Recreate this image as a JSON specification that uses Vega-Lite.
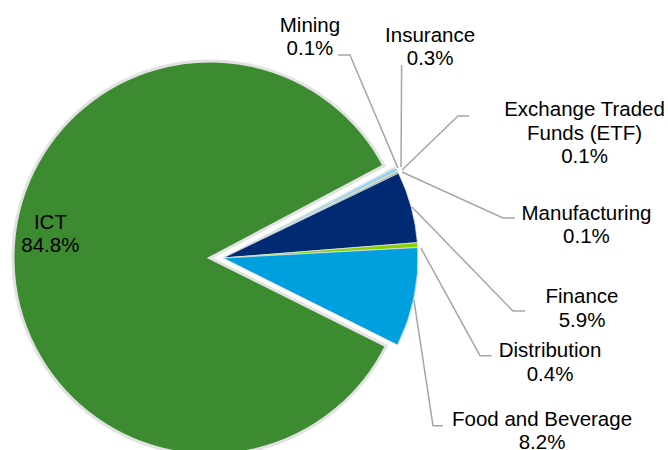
{
  "$schema": "https://vega.github.io/schema/vega-lite/v6.json",
  "width": 446,
  "height": 450,
  "autosize": {"type": "none"},
  "padding": {"left": 0, "top": 0, "right": 222, "bottom": 0},
  "background": "white",
  "config": {"view": {"stroke": null}},
  "datasets": {
    "sectors": [
      {"sector": "ICT", "value": 84.8, "ord": 1},
      {"sector": "Mining", "value": 0.1, "ord": 2},
      {"sector": "Insurance", "value": 0.3, "ord": 3},
      {"sector": "Exchange Traded Funds (ETF)", "value": 0.1, "ord": 4},
      {"sector": "Manufacturing", "value": 0.1, "ord": 5},
      {"sector": "Finance", "value": 5.9, "ord": 6},
      {"sector": "Distribution", "value": 0.4, "ord": 7},
      {"sector": "Food and Beverage", "value": 8.2, "ord": 8}
    ],
    "labels": [
      {"sector": "ICT", "display": "ICT", "value": 84.8, "lx": -0.885, "ly": 0.149},
      {"sector": "Mining", "display": "Mining", "value": 0.1, "lx": 0.446, "ly": 1.159},
      {"sector": "Insurance", "display": "Insurance", "value": 0.3, "lx": 1.062, "ly": 1.109},
      {"sector": "Exchange Traded Funds (ETF)", "display": "Exchange Traded\nFunds (ETF)", "value": 0.1, "lx": 1.854, "ly": 0.728},
      {"sector": "Manufacturing", "display": "Manufacturing", "value": 0.1, "lx": 1.864, "ly": 0.195},
      {"sector": "Finance", "display": "Finance", "value": 5.9, "lx": 1.841, "ly": -0.231},
      {"sector": "Distribution", "display": "Distribution", "value": 0.4, "lx": 1.677, "ly": -0.508},
      {"sector": "Food and Beverage", "display": "Food and Beverage", "value": 8.2, "lx": 1.636, "ly": -0.86}
    ],
    "leaders": [
      {"sector": "Mining", "i": 1, "u": 0.59, "v": 1.041},
      {"sector": "Mining", "i": 2, "u": 0.651, "v": 1.041},
      {"sector": "Mining", "i": 3, "u": 0.897, "v": 0.462},
      {"sector": "Insurance", "i": 1, "u": 0.916, "v": 0.99},
      {"sector": "Insurance", "i": 2, "u": 0.913, "v": 0.467},
      {"sector": "ETF", "i": 1, "u": 1.262, "v": 0.728},
      {"sector": "ETF", "i": 2, "u": 1.205, "v": 0.728},
      {"sector": "ETF", "i": 3, "u": 0.918, "v": 0.451},
      {"sector": "Manufacturing", "i": 1, "u": 1.497, "v": 0.205},
      {"sector": "Manufacturing", "i": 2, "u": 1.436, "v": 0.205},
      {"sector": "Manufacturing", "i": 3, "u": 0.918, "v": 0.441},
      {"sector": "Finance", "i": 1, "u": 1.549, "v": -0.272},
      {"sector": "Finance", "i": 2, "u": 1.487, "v": -0.272},
      {"sector": "Finance", "i": 3, "u": 0.969, "v": 0.262},
      {"sector": "Distribution", "i": 1, "u": 1.378, "v": -0.501},
      {"sector": "Distribution", "i": 2, "u": 1.318, "v": -0.501},
      {"sector": "Distribution", "i": 3, "u": 1.015, "v": 0.051},
      {"sector": "Food and Beverage", "i": 1, "u": 1.128, "v": -0.86},
      {"sector": "Food and Beverage", "i": 2, "u": 1.077, "v": -0.86},
      {"sector": "Food and Beverage", "i": 3, "u": 0.979, "v": -0.215}
    ]
  },
  "layer": [
    {
      "data": {"name": "sectors"},
      "transform": [
        {"stack": "value", "groupby": [], "sort": [{"field": "ord"}], "as": ["t0", "t1"]},
        {"filter": "datum.sector === 'ICT'"}
      ],
      "mark": {"type": "arc", "radius": 197, "xOffset": -13, "yOffset": 33, "stroke": "#e2e2e2", "strokeWidth": 3},
      "encoding": {
        "theta": {"field": "t0", "type": "quantitative", "scale": {"domain": [0, 99.9], "range": [2.033, 8.316]}},
        "theta2": {"field": "t1"},
        "color": {
          "field": "sector", "type": "nominal", "legend": null,
          "scale": {
            "domain": ["ICT", "Mining", "Insurance", "Exchange Traded Funds (ETF)", "Manufacturing", "Finance", "Distribution", "Food and Beverage"],
            "range": ["#3D8B31", "#B7C9D3", "#8FD3EE", "#D4DE00", "#2F5D6E", "#002A72", "#8CD200", "#00A0DE"]
          }
        }
      }
    },
    {
      "data": {"name": "sectors"},
      "transform": [
        {"stack": "value", "groupby": [], "sort": [{"field": "ord"}], "as": ["t0", "t1"]},
        {"filter": "datum.sector !== 'ICT'"}
      ],
      "mark": {"type": "arc", "radius": 195, "xOffset": 0, "yOffset": 33, "stroke": "#e6e6e6", "strokeWidth": 0.75},
      "encoding": {
        "theta": {"field": "t0", "type": "quantitative", "scale": {"domain": [0, 99.9], "range": [2.033, 8.316]}},
        "theta2": {"field": "t1"},
        "color": {
          "field": "sector", "type": "nominal", "legend": null,
          "scale": {
            "domain": ["ICT", "Mining", "Insurance", "Exchange Traded Funds (ETF)", "Manufacturing", "Finance", "Distribution", "Food and Beverage"],
            "range": ["#3D8B31", "#B7C9D3", "#8FD3EE", "#D4DE00", "#2F5D6E", "#002A72", "#8CD200", "#00A0DE"]
          }
        }
      }
    },
    {
      "data": {"name": "leaders"},
      "mark": {"type": "line", "color": "#a6a6a6", "strokeWidth": 1.5},
      "encoding": {
        "x": {"field": "u", "type": "quantitative", "axis": null, "scale": {"domain": [-1.1436, 1.1436], "nice": false, "zero": false}},
        "y": {"field": "v", "type": "quantitative", "axis": null, "scale": {"domain": [-0.9846, 1.3231], "nice": false, "zero": false}},
        "detail": {"field": "sector"},
        "order": {"field": "i", "type": "quantitative"}
      }
    },
    {
      "data": {"name": "labels"},
      "transform": [
        {"calculate": "datum.display + '\\n' + format(datum.value, '.1f') + '%'", "as": "txt"}
      ],
      "mark": {"type": "text", "align": "center", "baseline": "alphabetic", "font": "Liberation Sans", "fontSize": 20.5, "lineHeight": 23.5, "lineBreak": "\n", "color": "#000000"},
      "encoding": {
        "x": {"field": "lx", "type": "quantitative", "axis": null, "scale": {"domain": [-1.1436, 1.1436], "nice": false, "zero": false}},
        "y": {"field": "ly", "type": "quantitative", "axis": null, "scale": {"domain": [-0.9846, 1.3231], "nice": false, "zero": false}},
        "text": {"field": "txt"}
      }
    }
  ]
}
